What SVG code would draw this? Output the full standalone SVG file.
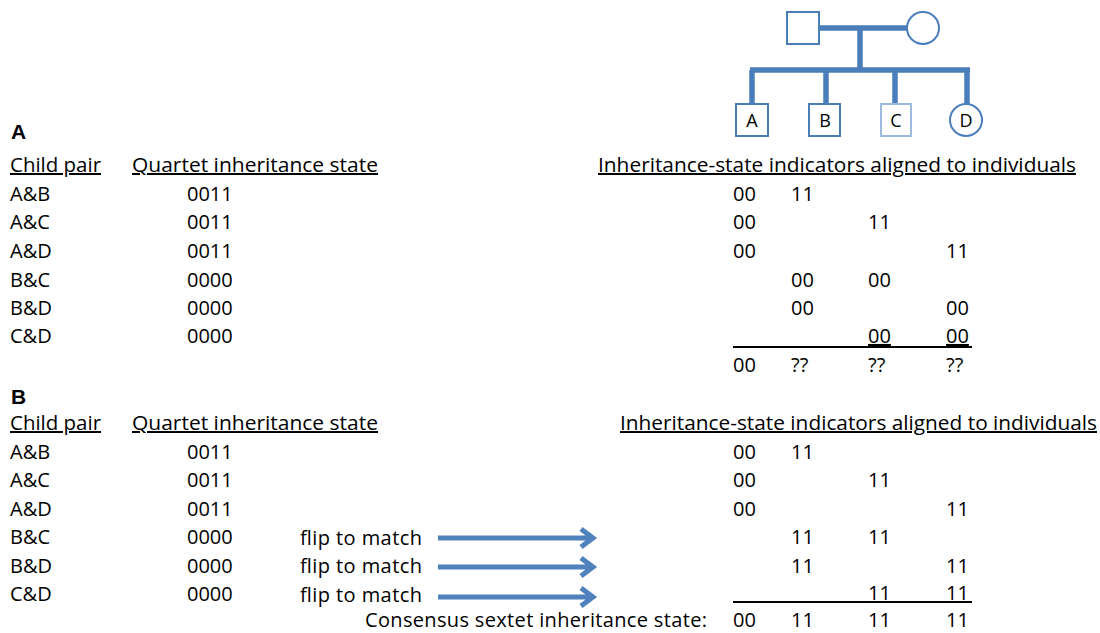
<svg xmlns="http://www.w3.org/2000/svg" width="1100" height="633" viewBox="0 0 1100 633">
<defs>
<style>
text{font-family:"Open Sans","Liberation Sans",sans-serif;font-size:20px;fill:#000}
.u{text-decoration:underline;text-decoration-skip-ink:none}
.lbl{font-family:"Liberation Sans",Arial,sans-serif;font-weight:bold;font-size:21px}
.ped{fill:#fff;stroke:#4a7ebb;stroke-width:2}
.pl{stroke:#4a7ebb;stroke-width:5.5;fill:none}
.pt{font-size:18px;text-anchor:middle}
.arr{stroke:#4f81bd;stroke-width:5;fill:none}
.rule{stroke:#000;stroke-width:2}
</style>
</defs>
<rect width="1100" height="633" fill="#fff"/>
<g id="pedigree-lines">
<path class="pl" d="M819 28 H907 M860 28 V70 M750 70 H970 M752 70 V104 M826 70 V104 M895 70 V104 M967 70 V104"/>
</g>
<g id="father"><rect class="ped" x="787" y="12" width="32" height="32"/></g>
<g id="mother"><circle class="ped" cx="923" cy="28" r="16"/></g>
<g id="childA"><rect class="ped" x="736" y="104" width="32" height="32"/><text class="pt" x="752" y="127">A</text></g>
<g id="childB"><rect class="ped" x="809" y="104" width="31" height="32"/><text class="pt" x="825" y="127">B</text></g>
<g id="childC"><rect class="ped" x="881" y="104" width="30" height="32" style="stroke:#9dbbe0"/><text class="pt" x="896" y="127">C</text></g>
<g id="childD"><circle class="ped" cx="966" cy="120" r="16"/><text class="pt" x="966" y="127">D</text></g>

<g id="sectionA">
<text class="lbl" x="11" y="139">A</text>
<text class="u" x="10" y="172" textLength="91" lengthAdjust="spacingAndGlyphs">Child pair</text>
<text class="u" x="132" y="172" textLength="246" lengthAdjust="spacingAndGlyphs">Quartet inheritance state</text>
<text class="u" x="598" y="172" textLength="478" lengthAdjust="spacingAndGlyphs">Inheritance-state indicators aligned to individuals</text>
<text x="10" y="201">A&amp;B</text><text x="187" y="201">0011</text>
<text x="10" y="229">A&amp;C</text><text x="187" y="229">0011</text>
<text x="10" y="258">A&amp;D</text><text x="187" y="258">0011</text>
<text x="10" y="287">B&amp;C</text><text x="187" y="287">0000</text>
<text x="10" y="315">B&amp;D</text><text x="187" y="315">0000</text>
<text x="10" y="343">C&amp;D</text><text x="187" y="343">0000</text>
<text x="733" y="201">00</text><text x="791" y="201">11</text>
<text x="733" y="229">00</text><text x="868" y="229">11</text>
<text x="733" y="258">00</text><text x="946" y="258">11</text>
<text x="791" y="287">00</text><text x="868" y="287">00</text>
<text x="791" y="315">00</text><text x="946" y="315">00</text>
<text class="u" x="868" y="343">00</text><text class="u" x="946" y="343">00</text>
<line class="rule" x1="733" y1="347" x2="972" y2="347"/>
<text x="733" y="372">00</text><text x="791" y="372">??</text><text x="868" y="372">??</text><text x="946" y="372">??</text>
</g>

<g id="sectionB">
<text class="lbl" x="11" y="404">B</text>
<text class="u" x="10" y="430" textLength="91" lengthAdjust="spacingAndGlyphs">Child pair</text>
<text class="u" x="132" y="430" textLength="246" lengthAdjust="spacingAndGlyphs">Quartet inheritance state</text>
<text class="u" x="620" y="430" textLength="477" lengthAdjust="spacingAndGlyphs">Inheritance-state indicators aligned to individuals</text>
<text x="10" y="459">A&amp;B</text><text x="187" y="459">0011</text>
<text x="10" y="487">A&amp;C</text><text x="187" y="487">0011</text>
<text x="10" y="516">A&amp;D</text><text x="187" y="516">0011</text>
<text x="10" y="544">B&amp;C</text><text x="187" y="544">0000</text>
<text x="10" y="573">B&amp;D</text><text x="187" y="573">0000</text>
<text x="10" y="601">C&amp;D</text><text x="187" y="601">0000</text>
<text x="300" y="545" textLength="122">flip to match</text>
<text x="300" y="573" textLength="122">flip to match</text>
<text x="300" y="602" textLength="122">flip to match</text>
<text x="733" y="459">00</text><text x="791" y="459">11</text>
<text x="733" y="487">00</text><text x="868" y="487">11</text>
<text x="733" y="516">00</text><text x="946" y="516">11</text>
<text x="791" y="544">11</text><text x="868" y="544">11</text>
<text x="791" y="573">11</text><text x="946" y="573">11</text>
<text class="u" x="868" y="600">11</text><text class="u" x="946" y="600">11</text>
<line class="rule" x1="733" y1="602" x2="972" y2="602"/>
<text x="365" y="627" textLength="342">Consensus sextet inheritance state:</text>
<text x="733" y="627">00</text><text x="791" y="627">11</text><text x="868" y="627">11</text><text x="946" y="627">11</text>
</g>

<g id="connectors">
<path class="arr" d="M438 538 H592 M581 529 L593 538 L581 547"/>
<path class="arr" d="M438 567 H592 M581 558 L593 567 L581 576"/>
<path class="arr" d="M438 597 H592 M581 588 L593 597 L581 606"/>
</g>
</svg>
